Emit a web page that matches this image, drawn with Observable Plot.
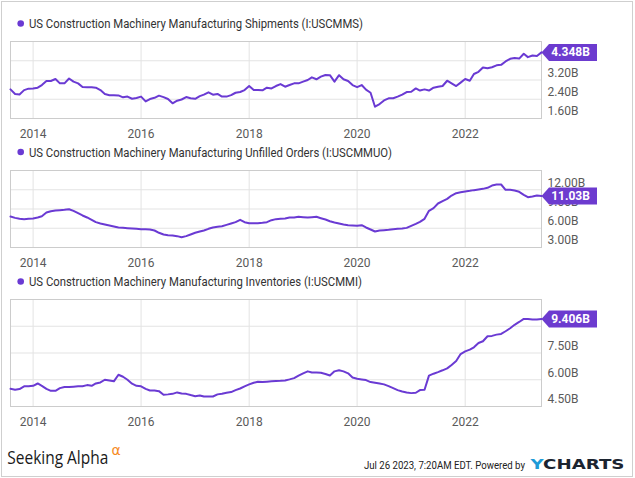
<!DOCTYPE html>
<html>
<head>
<meta charset="utf-8">
<script src="https://cdn.jsdelivr.net/npm/d3@7"></script>
<script src="https://cdn.jsdelivr.net/npm/@observablehq/plot@0.6"></script>
<style>
  html, body { margin: 0; padding: 0; background: #fff; }
  #wrap { position: relative; width: 635px; height: 478px; overflow: hidden; background: #fff; font-family: Roboto, sans-serif; }
  #border { position: absolute; left: 1px; top: 1px; width: 630px; height: 474px; border: 1px solid #cfcfcf; }
  .panel { position: absolute; left: 0; }
  #overlay { position: absolute; left: 0; top: 0; }
</style>
</head>
<body>
<div id="wrap">
  <div id="border"></div>
  <div class="panel" id="p1" style="top:31px"></div>
  <div class="panel" id="p2" style="top:160px"></div>
  <div class="panel" id="p3" style="top:289px"></div>
  <svg id="overlay" width="635" height="478"></svg>
</div>
<script>
// ---- data ----
const startMonth = "2013-08"; // first observation (monthly through Jun 2023)
const shipments = [2.81,2.62,2.60,2.78,2.84,2.85,2.88,2.99,3.16,3.16,
  3.24,3.06,3.06,3.26,3.13,3.06,2.91,2.90,2.90,2.88,
  2.78,2.62,2.57,2.57,2.56,2.48,2.51,2.42,2.45,2.51,
  2.31,2.41,2.46,2.55,2.49,2.41,2.23,2.34,2.39,2.49,
  2.44,2.42,2.53,2.59,2.69,2.59,2.62,2.51,2.51,2.57,
  2.67,2.70,2.78,2.95,2.78,2.78,2.77,2.88,2.85,2.95,
  3.03,2.92,2.99,3.06,3.06,3.13,3.20,3.31,3.23,3.34,
  3.41,3.40,3.13,3.40,3.23,3.16,2.99,2.90,2.99,2.80,
  2.67,2.09,2.20,2.35,2.44,2.44,2.51,2.59,2.70,2.71,
  2.85,2.76,2.81,2.76,2.88,2.92,2.95,3.17,3.06,2.95,
  3.09,3.24,3.17,3.45,3.54,3.72,3.69,3.73,3.81,3.83,
  3.97,4.08,4.11,4.09,4.29,4.15,4.22,4.20,4.348];
const unfilledOrders = [7.83,7.62,7.47,7.42,7.47,7.52,7.68,7.88,8.45,8.66,
  8.77,8.82,8.87,8.97,8.71,8.35,7.99,7.68,7.31,6.95,
  6.74,6.58,6.43,6.27,6.12,6.06,6.01,5.96,5.91,5.86,
  5.86,5.81,5.65,5.29,5.03,4.92,4.87,4.77,4.61,4.77,
  5.03,5.29,5.49,5.65,5.91,6.12,6.22,6.32,6.53,6.74,
  6.95,7.31,6.95,6.79,6.79,6.79,6.84,6.95,7.26,7.42,
  7.47,7.52,7.68,7.68,7.78,7.73,7.68,7.73,7.78,7.57,
  7.36,7.10,6.90,6.74,6.58,6.48,6.43,6.38,6.48,6.12,
  5.81,5.49,5.65,5.70,5.75,5.86,5.91,5.96,6.06,6.38,
  6.69,7.00,7.47,8.71,9.13,9.86,10.22,10.58,11.10,11.47,
  11.62,11.73,11.83,11.94,12.04,12.14,12.30,12.66,12.82,12.82,
  11.99,11.99,11.88,11.68,11.21,10.84,10.95,11.10,11.03];
const inventories = [5.49,5.44,5.48,5.63,5.63,5.66,5.79,5.66,5.49,5.38,
  5.38,5.53,5.59,5.59,5.61,5.63,5.64,5.70,5.66,5.79,
  5.85,6.00,5.96,5.91,6.28,6.17,6.00,5.78,5.66,5.63,
  5.49,5.40,5.40,5.36,5.16,5.18,5.21,5.29,5.23,5.21,
  5.14,5.08,5.12,5.06,5.06,5.06,5.18,5.21,5.27,5.31,
  5.42,5.51,5.63,5.74,5.83,5.89,5.87,5.89,5.91,5.93,
  5.94,5.96,6.02,6.09,6.23,6.36,6.47,6.41,6.41,6.39,
  6.32,6.24,6.47,6.53,6.47,6.36,6.13,6.06,6.02,5.98,
  5.87,5.83,5.79,5.74,5.64,5.53,5.42,5.34,5.29,5.25,
  5.27,5.42,5.44,6.23,6.34,6.43,6.53,6.64,6.83,7.05,
  7.44,7.59,7.69,7.82,8.06,8.16,8.44,8.46,8.53,8.57,
  8.72,8.89,9.08,9.24,9.41,9.41,9.38,9.38,9.406];

const titles = [
  "US Construction Machinery Manufacturing Shipments (I:USCMMS)",
  "US Construction Machinery Manufacturing Unfilled Orders (I:USCMMUO)",
  "US Construction Machinery Manufacturing Inventories (I:USCMMI)"
];
const lastLabels = ["4.348B", "11.03B", "9.406B"];
const yDomains = [[1.6, 4.8], [3, 15], [4.5, 10.5]];
const yGrid = [[1.6, 2.4, 3.2, 4.0], [3, 6, 9, 12], [4.5, 6.0, 7.5, 9.0]];
// labels visible in the reference (the others sit behind the value tag)
const yTickLabels = [[1.6, 2.4, 3.2], [3, 6, 9, 12], [4.5, 6.0, 7.5]];
const tickYears = [2014, 2016, 2018, 2020, 2022];
const tickYearLabels = ["2014", "2016", "2018", "2020", "2022"];
const xDomain = [new Date(Date.UTC(2013, 7, 1)), new Date(Date.UTC(2023, 5, 1))];

const purple = "#6a3ad3";
const badgePurple = "#6c3bcf";
const t0 = d3.utcParse("%Y-%m")(startMonth);
const toRows = vals => vals.map((v, i) => ({date: d3.utcMonth.offset(t0, i), value: v}));

// badge shape: left-pointing arrow tag, tip at the data point
const badgeSymbol = {
  draw(ctx) {
    ctx.moveTo(0, 0);
    ctx.lineTo(7.5, -8.5);
    ctx.lineTo(55.5, -8.5);
    ctx.lineTo(55.5, 8.5);
    ctx.lineTo(7.5, 8.5);
    ctx.closePath();
  }
};

const tickDates = tickYears.map(y => new Date(Date.UTC(y, 0, 1)));
const fmtY = d => d3.format(".2f")(d) + "B";

function panel(vals, k, plotH) {
  const rows = toRows(vals);
  const last = rows[rows.length - 1];
  return Plot.plot({
    width: 635,
    height: 10 + plotH + 24,
    marginLeft: 10, marginRight: 94, marginTop: 10, marginBottom: 24,
    style: {fontFamily: "Roboto, sans-serif", fontSize: "12px", color: "#5a5a5a", background: "transparent", overflow: "visible"},
    x: {type: "utc", domain: xDomain, label: null},
    y: {domain: yDomains[k], label: null},
    marks: [
      Plot.gridX(tickDates, {stroke: "#e3e3e3", strokeOpacity: 1}),
      Plot.gridY(yGrid[k], {stroke: "#e3e3e3", strokeOpacity: 1}),
      Plot.frame({stroke: "#cccccc"}),
      Plot.axisX(tickDates, {tickSize: 0, tickPadding: 10.5, fill: "#5a5a5a", label: null,
        tickFormat: d => tickYearLabels[tickYears.indexOf(d.getUTCFullYear())]}),
      Plot.axisY(yTickLabels[k], {anchor: "right", tickSize: 0, tickPadding: 6, dy: -7, fill: "#5a5a5a", label: null, tickFormat: fmtY}),
      Plot.line(rows, {x: "date", y: "value", stroke: purple, strokeWidth: 2, strokeLinejoin: "round"}),
      Plot.dot([last], {x: "date", y: "value", symbol: badgeSymbol, r: 5, fill: badgePurple, stroke: "none"}),
      Plot.text([last], {x: "date", y: "value", text: () => lastLabels[k], dx: 29, fill: "white",
        fontWeight: "bold", fontSize: 12, textAnchor: "middle"})
    ]
  });
}

document.getElementById("p1").append(panel(shipments, 0, 77));
document.getElementById("p2").append(panel(unfilledOrders, 1, 77));
document.getElementById("p3").append(panel(inventories, 2, 107));

// ---- titles & footer (real text) ----
const ov = d3.select("#overlay");
const titleY = [23.5, 152, 281.5];
const titleW = [334, 363, 333];
titles.forEach((t, i) => {
  ov.append("circle").attr("cx", 20.7).attr("cy", titleY[i]).attr("r", 3.3).attr("fill", purple);
  ov.append("text").attr("x", 29).attr("y", titleY[i] + 4.6)
    .attr("font-family", "Roboto, sans-serif").attr("font-size", 13).attr("fill", "#333")
    .attr("textLength", titleW[i]).attr("lengthAdjust", "spacingAndGlyphs").text(t);
});
ov.append("text").attr("x", 7.3).attr("y", 464.3)
  .attr("font-family", "'Open Sans', sans-serif").attr("font-size", 18).attr("fill", "#1a1a1a")
  .attr("textLength", 101).attr("lengthAdjust", "spacingAndGlyphs").text("Seeking Alpha");
ov.append("text").attr("x", 111.5).attr("y", 455)
  .attr("font-family", "'DejaVu Sans', sans-serif").attr("font-size", 14).attr("fill", "#f68b1f").text("α");
ov.append("text").attr("x", 364).attr("y", 469.3)
  .attr("font-family", "Roboto, sans-serif").attr("font-size", 11).attr("fill", "#222")
  .attr("textLength", 161).attr("lengthAdjust", "spacingAndGlyphs").text("Jul 26 2023, 7:20AM EDT.  Powered by");
const yc = ov.append("text").attr("x", 530.5).attr("y", 469.3)
  .attr("font-family", "'DejaVu Sans', sans-serif").attr("font-size", 13.5).attr("font-weight", "bold")
  .attr("textLength", 94).attr("lengthAdjust", "spacingAndGlyphs");
yc.append("tspan").attr("fill", "#1e9bd7").text("Y");
yc.append("tspan").attr("fill", "#1c2430").text("CHARTS");
</script>
</body>
</html>
